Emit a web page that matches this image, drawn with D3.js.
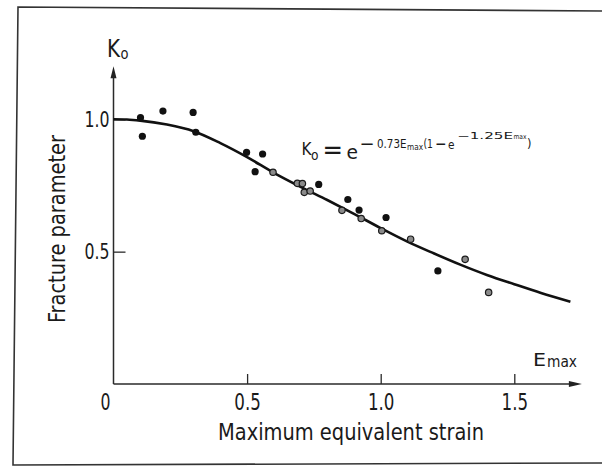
<!DOCTYPE html>
<html>
<head>
<meta charset="utf-8">
<script src="https://cdn.jsdelivr.net/npm/d3@7/dist/d3.min.js"></script>
<style>
  html, body { margin: 0; padding: 0; background: #fff; }
  svg { display: block; }
  text { font-family: 'Liberation Sans Narrow', 'DejaVu Sans Condensed', 'Roboto Condensed', sans-serif; fill: #1a1a1a; }
</style>
</head>
<body>
<script>
// ---- data ----
const filledX = [0.101, 0.108, 0.185, 0.298, 0.308, 0.498, 0.558, 0.530, 0.768, 0.877, 0.919, 1.020, 1.214];
const filledY = [1.006, 0.936, 1.031, 1.026, 0.951, 0.875, 0.869, 0.802, 0.754, 0.697, 0.657, 0.629, 0.427];
const openX = [0.597, 0.688, 0.707, 0.714, 0.736, 0.855, 0.927, 1.004, 1.112, 1.316, 1.404];
const openY = [0.800, 0.758, 0.757, 0.724, 0.729, 0.656, 0.625, 0.579, 0.547, 0.471, 0.346];
const curveX = [0, 0.05, 0.1, 0.2, 0.3, 0.4, 0.5, 0.6, 0.7, 0.8, 0.9, 1.0, 1.1, 1.2, 1.3, 1.4, 1.5, 1.6, 1.71];
const curveY = [1.0, 0.999, 0.995, 0.98, 0.955, 0.91, 0.857, 0.798, 0.745, 0.695, 0.643, 0.589, 0.538, 0.493, 0.45, 0.411, 0.377, 0.344, 0.311];
const xTickValues = [0.5, 1.0, 1.5];
const xTickLabels = ["0.5", "1.0", "1.5"];
const yTickValues = [0.5, 1.0];
const yTickLabels = ["0.5", "1.0"];
const zeroLabel = "0";
const xAxisEnd = 1.753;
const yAxisEnd = 1.2;

const W = 602, H = 467;
const FONT = "'Liberation Sans Narrow', 'DejaVu Sans Condensed', sans-serif";
const svg = d3.select("body").append("svg").attr("width", W).attr("height", H);
svg.append("rect").attr("width", W).attr("height", H).attr("fill", "#fff");

// frame (scanned page border: left, top, bottom)
svg.append("path")
  .attr("d", "M602,11 L18,7 L13,465 L602,463")
  .attr("fill", "none").attr("stroke", "#333").attr("stroke-width", 1.6);

const x = d3.scaleLinear().domain([0, 1.5]).range([113.5, 514.3]);
const y = d3.scaleLinear().domain([0, 1]).range([384, 119.3]);

const g = svg.append("g");

// helper: text squeezed/stretched to a measured width
function txt(parent, str, px, py, size, len, anchor) {
  const t = parent.append("text").attr("x", px).attr("y", py).attr("font-size", size).text(str);
  if (len) t.attr("textLength", len).attr("lengthAdjust", "spacingAndGlyphs");
  if (anchor) t.attr("text-anchor", anchor);
  return t;
}

// axes lines with arrows
g.append("line").attr("x1", x(0)).attr("x2", x(xAxisEnd) - 6).attr("y1", y(0)).attr("y2", y(0))
  .attr("stroke", "#2a2a2a").attr("stroke-width", 1.5);
g.append("line").attr("x1", x(0)).attr("x2", x(0)).attr("y1", y(0)).attr("y2", y(yAxisEnd) + 6)
  .attr("stroke", "#2a2a2a").attr("stroke-width", 1.5);
const xa = x(xAxisEnd), ya = y(yAxisEnd);
g.append("path").attr("d", `M${xa},${y(0)} L${xa - 13},${y(0) - 3} L${xa - 13},${y(0) + 3} Z`).attr("fill", "#222");
g.append("path").attr("d", `M${x(0)},${ya} L${x(0) - 3},${ya + 12} L${x(0) + 3},${ya + 12} Z`).attr("fill", "#222");

// tick marks + labels via d3 axes
const xAxis = d3.axisBottom(x).tickValues(xTickValues).tickSize(-10).tickPadding(9.5)
  .tickFormat((d, i) => xTickLabels[i]);
const gx = g.append("g").attr("transform", `translate(0,${y(0)})`).call(xAxis);
gx.select(".domain").remove();
gx.selectAll(".tick line").attr("stroke", "#2a2a2a").attr("stroke-width", 1.3);
gx.selectAll(".tick text").attr("font-size", 23).attr("fill", "#1a1a1a")
  .attr("textLength", 26.5).attr("lengthAdjust", "spacingAndGlyphs")
  .style("font-family", FONT);

const yAxis = d3.axisLeft(y).tickValues(yTickValues).tickSize(-12).tickPadding(4)
  .tickFormat((d, i) => yTickLabels[i]);
const gy = g.append("g").attr("transform", `translate(${x(0)},0)`).call(yAxis);
gy.select(".domain").remove();
gy.selectAll(".tick line").attr("stroke", "#2a2a2a").attr("stroke-width", 1.3);
gy.selectAll(".tick text").attr("font-size", 22).attr("fill", "#1a1a1a")
  .attr("textLength", 25).attr("lengthAdjust", "spacingAndGlyphs")
  .style("font-family", FONT);

txt(g, zeroLabel, x(0) - 8, 410, 23, 10, "middle");

// curve
const curvePts = curveX.map((v, i) => [v, curveY[i]]);
g.append("path").datum(curvePts)
  .attr("d", d3.line().x(d => x(d[0])).y(d => y(d[1])).curve(d3.curveMonotoneX))
  .attr("fill", "none").attr("stroke", "#111").attr("stroke-width", 2.6);

// points
g.selectAll("circle.open").data(openX.map((v, i) => [v, openY[i]])).join("circle")
  .attr("class", "open").attr("cx", d => x(d[0])).attr("cy", d => y(d[1])).attr("r", 3.2)
  .attr("fill", "#8a8a8a").attr("stroke", "#1a1a1a").attr("stroke-width", 1.2);
g.selectAll("circle.filled").data(filledX.map((v, i) => [v, filledY[i]])).join("circle")
  .attr("class", "filled").attr("cx", d => x(d[0])).attr("cy", d => y(d[1])).attr("r", 3.6)
  .attr("fill", "#111");

// axis titles
g.append("text").attr("x", 351).attr("y", 440).attr("text-anchor", "middle")
  .attr("font-size", 23).attr("textLength", 266).attr("lengthAdjust", "spacingAndGlyphs")
  .text("Maximum equivalent strain");
g.append("text").attr("transform", "translate(65,229) rotate(-90)").attr("text-anchor", "middle")
  .attr("font-size", 23).attr("textLength", 188).attr("lengthAdjust", "spacingAndGlyphs")
  .text("Fracture parameter");

// K_o label at top of y axis
txt(g, "K", 107, 56.7, 24, 13);
txt(g, "o", 120.5, 59, 16, 8);

// E_max label near x-axis end
txt(g, "E", 533, 366, 17.5, 13);
txt(g, "max", 547, 366.5, 15, 30);

// formula
const f = g.append("g");
txt(f, "K", 301.5, 155, 18.5, 10);
txt(f, "o", 311, 160, 13.5, 7.5);
txt(f, "=", 322.5, 158.5, 26, 20.5);
txt(f, "e", 346.5, 158.5, 20, 11.5);
txt(f, "\u2212", 359.5, 150, 18, 15);
txt(f, "0.73E", 377, 148.3, 12, 29.5);
txt(f, "max", 407, 149.5, 9, 16);
txt(f, "(1", 423.5, 148.3, 12, 9.5);
txt(f, "\u2212", 435, 150.3, 18, 11.5);
txt(f, "e", 448, 149, 12, 6.5);
txt(f, "\u22121.25E", 457, 138.5, 8.5, 56);
txt(f, "max", 513.5, 139, 7, 13);
txt(f, ")", 527, 148.3, 12, 4.5);
</script>
</body>
</html>
